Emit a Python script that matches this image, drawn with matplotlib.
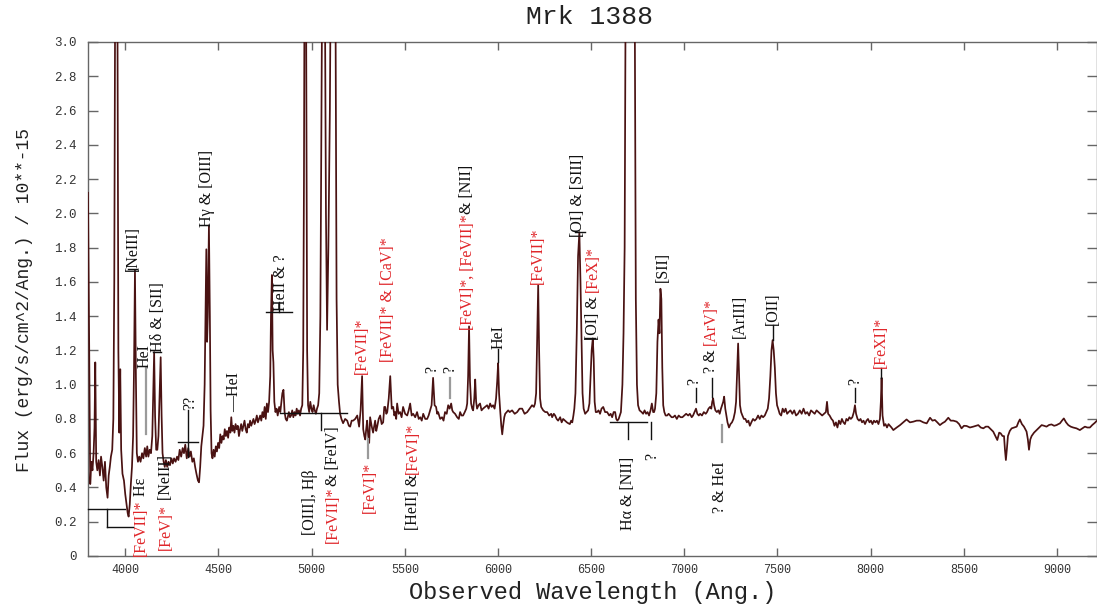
import matplotlib
matplotlib.use("Agg")
import matplotlib.pyplot as plt

# ---------------- data (wavelength in Angstrom, flux in 1e-15 erg/s/cm^2/A) ----------------
seg_blue = [(3800, 2.12), (3806, 1.30), (3812, 0.42), (3818, 0.55), (3824, 0.50), (3830, 0.60),
            (3835, 0.75), (3839, 1.13), (3844, 0.55), (3850, 0.50), (3857, 0.56), (3864, 0.47),
            (3870, 0.58), (3877, 0.52), (3884, 0.44), (3891, 0.55), (3898, 0.40), (3905, 0.34),
            (3911, 0.47), (3917, 0.52), (3923, 0.58), (3930, 0.62), (3936, 0.80), (3941, 1.60),
            (3946, 3.40), (3952, 4.50), (3958, 3.20), (3963, 1.20), (3968, 0.72), (3973, 1.09),
            (3978, 0.62), (3985, 0.48), (3993, 0.44), (4000, 0.36), (4007, 0.30), (4013, 0.25),
            (4018, 0.23), (4024, 0.30), (4030, 0.42), (4036, 0.52), (4042, 0.70), (4047, 1.10),
            (4052, 1.67), (4057, 1.05), (4062, 0.60), (4068, 0.55), (4075, 0.58), (4082, 0.55),
            (4090, 0.60), (4097, 0.57), (4105, 0.63), (4112, 0.58), (4118, 0.64), (4124, 0.58),
            (4131, 0.62), (4138, 0.60), (4145, 0.70), (4150, 0.95), (4155, 1.19), (4160, 0.82),
            (4166, 0.62), (4172, 0.62), (4178, 0.70), (4184, 0.92), (4190, 1.16), (4195, 0.82),
            (4200, 0.60)]

seg_hgamma = [(4206, 0.55), (4212, 0.52), (4218, 0.56), (4225, 0.52), (4232, 0.55), (4240, 0.53),
              (4248, 0.57), (4255, 0.54), (4262, 0.57), (4270, 0.55), (4278, 0.58), (4285, 0.56),
              (4292, 0.62), (4300, 0.58), (4308, 0.63), (4315, 0.60), (4322, 0.65), (4330, 0.57),
              (4338, 0.63), (4345, 0.58), (4352, 0.61), (4360, 0.55), (4368, 0.57), (4375, 0.52),
              (4382, 0.48), (4390, 0.44), (4396, 0.43), (4402, 0.52), (4408, 0.64), (4414, 0.70),
              (4420, 0.76), (4426, 1.00), (4431, 1.45), (4435, 1.79), (4439, 1.25), (4443, 1.40),
              (4449, 1.93), (4454, 1.40), (4458, 0.85), (4463, 0.60), (4468, 0.57), (4474, 0.62),
              (4480, 0.58), (4486, 0.64), (4492, 0.61), (4498, 0.66), (4504, 0.63), (4510, 0.71),
              (4516, 0.66), (4522, 0.70), (4528, 0.68), (4534, 0.74), (4540, 0.70), (4546, 0.73),
              (4552, 0.69), (4558, 0.75), (4564, 0.72), (4569, 0.81), (4574, 0.73), (4580, 0.76),
              (4586, 0.72), (4592, 0.77), (4598, 0.74), (4604, 0.76), (4610, 0.70), (4616, 0.74),
              (4622, 0.77), (4628, 0.73), (4634, 0.76), (4640, 0.79), (4646, 0.74), (4652, 0.72),
              (4658, 0.77), (4664, 0.75), (4670, 0.79), (4676, 0.76), (4682, 0.78), (4688, 0.80),
              (4694, 0.77), (4700, 0.79), (4706, 0.82), (4712, 0.78), (4718, 0.80), (4724, 0.82),
              (4730, 0.79), (4736, 0.84), (4742, 0.81), (4748, 0.87), (4754, 0.80), (4760, 0.89),
              (4766, 0.84), (4772, 0.90), (4778, 1.05), (4782, 1.40), (4787, 1.64), (4791, 1.20),
              (4795, 1.13), (4800, 0.90), (4806, 0.84), (4812, 0.86), (4818, 0.82), (4826, 0.87),
              (4832, 0.84), (4838, 0.90), (4843, 0.95), (4849, 0.97), (4855, 0.84), (4861, 0.80),
              (4867, 0.79), (4872, 0.81), (4878, 0.84), (4884, 0.81), (4890, 0.82), (4896, 0.85),
              (4902, 0.81), (4908, 0.84), (4914, 0.82), (4920, 0.86), (4926, 0.83), (4932, 0.85),
              (4938, 0.82), (4944, 0.86)]

seg_oiii = [(4950, 0.88), (4955, 1.20), (4959, 2.20), (4963, 3.80), (4968, 4.20), (4972, 2.60),
            (4976, 1.20), (4981, 0.88), (4987, 0.84), (4993, 0.90), (4999, 0.86), (5005, 0.84),
            (5011, 0.88), (5017, 0.85), (5023, 0.83), (5029, 0.86), (5035, 0.88), (5041, 0.95),
            (5047, 1.40), (5052, 2.40), (5057, 3.40), (5064, 5.50), (5071, 3.40), (5077, 2.00),
            (5083, 1.32), (5090, 1.80), (5098, 2.60), (5104, 3.60), (5112, 14.0), (5120, 12.0),
            (5128, 3.30), (5134, 1.50), (5140, 1.00), (5147, 0.90), (5153, 0.83)]

seg_feline = [(5160, 0.80), (5169, 0.775), (5180, 0.80), (5191, 0.79), (5200, 0.76), (5207, 0.755),
              (5215, 0.79), (5223, 0.79), (5234, 0.80), (5245, 0.82), (5255, 0.755), (5263, 0.85),
              (5271, 1.05), (5277, 0.74), (5283, 0.70), (5288, 0.68), (5293, 0.74), (5298, 0.79),
              (5304, 0.70), (5309, 0.66), (5314, 0.81), (5322, 0.76), (5330, 0.72), (5336, 0.76),
              (5341, 0.79), (5347, 0.73), (5352, 0.755), (5360, 0.80), (5368, 0.82), (5376, 0.77),
              (5384, 0.78), (5390, 0.87), (5395, 0.87), (5401, 0.83), (5406, 0.84), (5414, 0.92),
              (5422, 1.05), (5430, 0.86), (5438, 0.87), (5444, 0.82), (5449, 0.84), (5454, 0.80),
              (5459, 0.89), (5467, 0.83), (5475, 0.84), (5483, 0.81), (5491, 0.87), (5502, 0.83),
              (5513, 0.82), (5521, 0.85), (5529, 0.89), (5537, 0.82), (5545, 0.83), (5556, 0.81),
              (5566, 0.84), (5575, 0.80), (5583, 0.81), (5591, 0.79), (5599, 0.83), (5610, 0.80),
              (5620, 0.80), (5628, 0.82), (5636, 0.85), (5644, 0.88), (5652, 1.04), (5660, 0.88),
              (5668, 0.87), (5674, 0.83), (5679, 0.84), (5690, 0.80), (5700, 0.81), (5708, 0.79),
              (5716, 0.84), (5725, 0.83), (5733, 0.88), (5741, 0.86), (5749, 0.89), (5755, 0.85),
              (5760, 0.84), (5770, 0.83), (5781, 0.81), (5790, 0.80), (5797, 0.84), (5805, 0.82),
              (5813, 0.82), (5822, 0.84), (5830, 0.86), (5835, 0.89), (5840, 1.05), (5845, 1.34),
              (5850, 1.02), (5856, 0.89), (5862, 0.86), (5867, 0.85), (5873, 0.92), (5878, 1.03),
              (5883, 0.90), (5888, 0.86), (5896, 0.88), (5904, 0.89), (5912, 0.85), (5920, 0.86),
              (5931, 0.87), (5942, 0.88), (5950, 0.86), (5958, 0.89), (5966, 0.87), (5974, 0.88),
              (5982, 0.86), (5990, 0.92), (5996, 1.02), (6001, 1.125), (6006, 0.95), (6012, 0.85),
              (6018, 0.76), (6023, 0.71), (6028, 0.76), (6034, 0.81), (6039, 0.83), (6047, 0.84),
              (6055, 0.85)]

seg_halpha = [(6063, 0.84), (6076, 0.85), (6090, 0.83), (6103, 0.84), (6116, 0.86), (6130, 0.86),
              (6143, 0.83), (6157, 0.84), (6170, 0.86), (6183, 0.88), (6193, 0.87), (6199, 0.89),
              (6205, 0.95), (6211, 1.30), (6216, 1.58), (6221, 1.20), (6226, 0.92), (6232, 0.87),
              (6243, 0.85), (6254, 0.84), (6264, 0.84), (6275, 0.82), (6286, 0.83), (6291, 0.81),
              (6300, 0.83), (6307, 0.82), (6315, 0.80), (6323, 0.79), (6334, 0.81), (6342, 0.78),
              (6350, 0.80), (6360, 0.79), (6370, 0.78), (6377, 0.775), (6386, 0.77), (6393, 0.79),
              (6399, 0.78), (6405, 0.82), (6410, 0.86), (6416, 0.95), (6423, 1.30), (6430, 1.75),
              (6437, 1.89), (6443, 1.60), (6448, 1.30), (6454, 0.95), (6460, 0.86), (6468, 0.83),
              (6476, 0.84), (6484, 0.85), (6491, 0.89), (6497, 1.05), (6503, 1.20), (6509, 1.27),
              (6514, 1.15), (6519, 0.90), (6525, 0.84), (6532, 0.84), (6540, 0.85), (6548, 0.83),
              (6556, 0.86), (6565, 0.87), (6575, 0.84), (6586, 0.84), (6597, 0.82), (6605, 0.83),
              (6613, 0.81), (6621, 0.84), (6629, 0.84), (6635, 0.80), (6641, 0.79), (6648, 0.80),
              (6660, 0.84), (6668, 1.00), (6674, 1.30), (6680, 1.80), (6686, 3.50), (6695, 9.00),
              (6705, 15.0), (6715, 12.0), (6725, 8.00), (6733, 3.60), (6740, 1.50), (6746, 1.00),
              (6752, 0.88), (6760, 0.85), (6771, 0.84), (6779, 0.83), (6787, 0.85), (6795, 0.83),
              (6803, 0.84), (6811, 0.82), (6819, 0.85), (6826, 0.89), (6833, 0.84), (6838, 0.84),
              (6843, 0.86), (6850, 0.95), (6856, 1.25), (6862, 1.38), (6867, 1.30), (6872, 1.56),
              (6877, 1.50), (6882, 1.10), (6887, 0.88), (6893, 0.84)]

seg_red = [(6900, 0.82), (6908, 0.82), (6916, 0.83), (6924, 0.82), (6932, 0.81), (6940, 0.81),
           (6950, 0.82), (6960, 0.80), (6970, 0.82), (6980, 0.81), (6990, 0.81), (7000, 0.82),
           (7010, 0.83), (7021, 0.82), (7030, 0.83), (7040, 0.81), (7047, 0.82), (7055, 0.84),
           (7063, 0.86), (7070, 0.83), (7078, 0.82), (7085, 0.83), (7095, 0.82), (7105, 0.84),
           (7115, 0.83), (7122, 0.84), (7130, 0.86), (7138, 0.87), (7145, 0.86), (7150, 0.90),
           (7155, 0.92), (7160, 0.88), (7167, 0.85), (7175, 0.84), (7183, 0.85), (7190, 0.83),
           (7197, 0.86), (7203, 0.88), (7209, 0.90), (7214, 0.93), (7220, 0.86), (7226, 0.82),
           (7232, 0.78), (7240, 0.75), (7248, 0.77), (7256, 0.78), (7264, 0.80), (7272, 0.84),
           (7278, 0.90), (7283, 1.05), (7289, 1.24), (7294, 1.05), (7299, 0.88), (7305, 0.84),
           (7312, 0.82), (7320, 0.80), (7328, 0.80), (7336, 0.78), (7344, 0.79), (7352, 0.76),
           (7360, 0.78), (7369, 0.80), (7378, 0.79), (7387, 0.80), (7396, 0.82), (7405, 0.80),
           (7414, 0.82), (7423, 0.81), (7432, 0.82), (7440, 0.84), (7448, 0.86), (7455, 0.92),
           (7462, 1.05), (7468, 1.20), (7474, 1.26), (7480, 1.20), (7486, 1.10), (7492, 0.95),
           (7498, 0.88), (7504, 0.86), (7512, 0.83), (7520, 0.82), (7528, 0.86), (7536, 0.84),
           (7544, 0.86), (7552, 0.83), (7560, 0.84), (7570, 0.85), (7580, 0.83), (7590, 0.85),
           (7600, 0.82), (7610, 0.83), (7620, 0.85), (7630, 0.83), (7640, 0.86), (7650, 0.83),
           (7660, 0.84), (7670, 0.82), (7680, 0.85), (7690, 0.84), (7700, 0.83), (7710, 0.85),
           (7720, 0.84), (7730, 0.83), (7740, 0.82), (7750, 0.83), (7760, 0.84), (7766, 0.90),
           (7772, 0.83), (7780, 0.82), (7790, 0.80), (7798, 0.79), (7806, 0.76), (7814, 0.78),
           (7822, 0.75), (7830, 0.79), (7838, 0.77), (7846, 0.80), (7854, 0.78), (7862, 0.77),
           (7870, 0.80), (7878, 0.79), (7886, 0.81), (7894, 0.80), (7902, 0.81), (7910, 0.84),
           (7916, 0.88), (7922, 0.83), (7930, 0.80), (7938, 0.79), (7946, 0.80), (7954, 0.78),
           (7962, 0.79), (7970, 0.77), (7978, 0.79), (7986, 0.80), (7994, 0.78), (8002, 0.79),
           (8010, 0.77), (8018, 0.79), (8026, 0.78), (8034, 0.79), (8042, 0.77), (8050, 0.80),
           (8055, 0.90), (8059, 1.04), (8064, 0.82), (8072, 0.76), (8080, 0.77), (8088, 0.75),
           (8096, 0.77), (8104, 0.76), (8112, 0.75), (8122, 0.735), (8140, 0.75), (8158, 0.764)]

seg_ir = [(8175, 0.78), (8193, 0.797), (8211, 0.78), (8229, 0.784), (8247, 0.79), (8265, 0.79),
          (8283, 0.78), (8301, 0.774), (8319, 0.807), (8332, 0.79), (8345, 0.794), (8358, 0.78),
          (8372, 0.764), (8385, 0.775), (8399, 0.784), (8417, 0.807), (8430, 0.79), (8444, 0.79),
          (8462, 0.784), (8475, 0.77), (8488, 0.745), (8501, 0.76), (8515, 0.759), (8533, 0.75),
          (8551, 0.755), (8565, 0.76), (8578, 0.764), (8591, 0.75), (8605, 0.745), (8618, 0.755),
          (8631, 0.755), (8645, 0.74), (8658, 0.726), (8670, 0.70), (8680, 0.677), (8690, 0.72),
          (8698, 0.716), (8708, 0.70), (8716, 0.70), (8721, 0.62), (8726, 0.56), (8731, 0.62),
          (8737, 0.70), (8747, 0.73), (8757, 0.745), (8770, 0.75), (8784, 0.755), (8793, 0.78),
          (8801, 0.797), (8812, 0.77), (8823, 0.755), (8830, 0.74), (8837, 0.726), (8844, 0.68),
          (8850, 0.62), (8857, 0.68), (8864, 0.70), (8877, 0.72), (8891, 0.735), (8905, 0.75),
          (8918, 0.764), (8931, 0.76), (8944, 0.755), (8958, 0.765), (8971, 0.768), (8985, 0.76),
          (8998, 0.764), (9008, 0.77), (9016, 0.774), (9027, 0.79), (9037, 0.803), (9049, 0.78),
          (9061, 0.764), (9074, 0.755), (9087, 0.75), (9105, 0.745), (9123, 0.735), (9137, 0.745),
          (9150, 0.755), (9163, 0.75), (9177, 0.75), (9190, 0.765), (9203, 0.777), (9215, 0.79)]

x_ticks = [4000, 4500, 5000, 5500, 6000, 6500, 7000, 7500, 8000, 8500, 9000]
x_tick_labels = ["4000", "4500", "5000", "5500", "6000", "6500", "7000", "7500", "8000", "8500", "9000"]
y_ticks = [0, 0.2, 0.4, 0.6, 0.8, 1.0, 1.2, 1.4, 1.6, 1.8, 2.0, 2.2, 2.4, 2.6, 2.8, 3.0]
y_tick_labels = ["0", "0.2", "0.4", "0.6", "0.8", "1.0", "1.2", "1.4", "1.6", "1.8",
                 "2.0", "2.2", "2.4", "2.6", "2.8", "3.0"]

title_text = "Mrk 1388"
x_label = "Observed Wavelength (Ang.)"
y_label = "Flux (erg/s/cm^2/Ang.) / 10**-15"

RED = "#e0262a"
BLK = "#111111"

# line identifications: (wavelength, flux of text bottom, [(text, colour), ...])
line_ids = [
    (4043, 1.665, [("[NeIII]", BLK)]),
    (4103, 1.10, [("HeI", BLK)]),
    (4177, 1.19, [("H\u03b4 & [SII]", BLK)]),
    (4350, 0.85, [("??", BLK)]),
    (4440, 1.92, [("H\u03b3 & [OIII]", BLK)]),
    (4585, 0.84, [("\u2014HeI", BLK)]),
    (4835, 1.43, [("HeII & ?", BLK)]),
    (5271, 1.06, [("[FeVII]*", RED)]),
    (5411, 1.13, [("[FeVII]* & [CaV]*", RED)]),
    (5647, 1.07, [("?", BLK)]),
    (5744, 1.07, [("?", BLK)]),
    (5835, 1.32, [("[FeVI]*, [FeVII]*", RED), ("& [NII]", BLK)]),
    (6006, 1.21, [("HeI", BLK)]),
    (6216, 1.59, [("[FeVII]*", RED)]),
    (6430, 1.86, [("[OI] & [SIII]", BLK)]),
    (6511, 1.26, [("[OI] & ", BLK), ("[FeX]*", RED)]),
    (6886, 1.60, [("[SII]", BLK)]),
    (7053, 1.00, [("?", BLK)]),
    (7144, 1.07, [("? & ", BLK), ("[ArV]*", RED)]),
    (7300, 1.27, [("[ArIII]", BLK)]),
    (7477, 1.35, [("[OII]", BLK)]),
    (7917, 1.00, [("?", BLK)]),
    (8056, 1.10, [("[FeXI]*", RED)]),
    (4086, 0.00, [("[FeVII]*", RED), (" H\u03b5", BLK)]),
    (4220, 0.035, [("[FeV]*", RED), (" [NeIII]", BLK)]),
    (4993, 0.12, [("[OIII], H\u03b2", BLK)]),
    (5116, 0.076, [("[FeVII]*", RED), ("& [FeIV]", BLK)]),
    (5314, 0.25, [("[FeVI]*", RED)]),
    (5545, 0.15, [("[HeII] &", BLK), ("[FeVI]*", RED)]),
    (6698, 0.15, [("H\u03b1 & [NII]", BLK)]),
    (6827, 0.56, [("?", BLK)]),
    (7192, 0.25, [("? & HeI", BLK)]),
]

# marker strokes: ((x0, y0), (x1, y1), colour)
GREY = "#9a9a9a"
marker_strokes = [
    ((4016, 1.675), (4064, 1.675), BLK),
    ((4113, 1.10), (4113, 0.71), GREY),
    ((4150, 1.19), (4192, 1.19), BLK),
    ((4338, 0.85), (4338, 0.58), BLK),
    ((4284, 0.665), (4392, 0.665), BLK),
    ((4756, 1.424), (4896, 1.424), BLK),
    ((4826, 1.424), (4826, 1.48), BLK),
    ((5744, 1.04), (5744, 0.92), GREY),
    ((6001, 1.21), (6001, 1.13), BLK),
    ((6412, 1.89), (6466, 1.89), BLK),
    ((6468, 1.27), (6521, 1.27), BLK),
    ((7063, 0.98), (7063, 0.90), BLK),
    ((7149, 1.04), (7149, 0.93), BLK),
    ((7477, 1.35), (7477, 1.26), BLK),
    ((7917, 0.98), (7917, 0.90), BLK),
    ((8058, 1.10), (8058, 1.04), BLK),
    ((3800, 0.274), (4000, 0.274), BLK),
    ((3903, 0.274), (3903, 0.17), BLK),
    ((3903, 0.17), (4043, 0.17), BLK),
    ((4832, 0.835), (5191, 0.835), BLK),
    ((5051, 0.835), (5051, 0.735), BLK),
    ((5304, 0.68), (5304, 0.57), GREY),
    ((6602, 0.78), (6800, 0.78), BLK),
    ((6698, 0.78), (6698, 0.68), BLK),
    ((6822, 0.78), (6822, 0.68), BLK),
    ((7203, 0.765), (7203, 0.665), GREY),
]

# ---------------- figure ----------------
wavelength = []
flux = []
for seg in (seg_blue, seg_hgamma, seg_oiii, seg_feline, seg_halpha, seg_red, seg_ir):
    for w, f in seg:
        wavelength.append(w)
        flux.append(f)

W, H = 1097, 610
fig = plt.figure(figsize=(W / 100, H / 100), dpi=100)
fig.patch.set_facecolor("white")
ax = fig.add_axes([88 / W, (H - 556) / H, (W - 88) / W, 514 / H])

ax.plot(wavelength, flux, color="#4a1212", lw=1.25, zorder=3)
ax.set_xlim(3800, 9215)
ax.set_ylim(0, 3.0)

mono = "Liberation Mono"
serif = ["Liberation Serif", "DejaVu Serif"]

ax.set_xticks(x_ticks)
ax.set_xticklabels(x_tick_labels, fontfamily=mono, fontsize=8.5, color="#333333")
ax.set_yticks(y_ticks)
ax.set_yticklabels(y_tick_labels, fontfamily=mono, fontsize=9, color="#333333")
ax.tick_params(axis="x", direction="in", length=6, width=1, color="#666666",
               top=True, pad=6)
ax.tick_params(axis="y", direction="in", length=7.5, width=1, color="#666666",
               right=True, pad=8)
for sp in ax.spines.values():
    sp.set_color("#666666")
    sp.set_linewidth(1.0)

fig.text(590 / W, 1 - 17 / H, title_text, ha="center", va="center",
         fontfamily=mono, fontsize=19, color="#222222")
fig.text(593 / W, 1 - 593 / H, x_label, ha="center", va="center",
         fontfamily=mono, fontsize=17, color="#222222")
fig.text(25 / W, 1 - 300 / H, y_label, ha="center", va="center", rotation=90,
         fontfamily=mono, fontsize=13, color="#222222")

for (x0, y0), (x1, y1), col in marker_strokes:
    ax.plot([x0, x1], [y0, y1], color=col, lw=1.0 if col != GREY else 1.6,
            zorder=4, clip_on=False)

fig.canvas.draw()
renderer = fig.canvas.get_renderer()
for wl, yb, pieces in line_ids:
    off = 0.0
    for txt, col in pieces:
        t = ax.annotate(txt, xy=(wl, yb), xytext=(0, off), textcoords="offset pixels",
                        rotation=90, ha="center", va="bottom", color=col,
                        fontfamily=serif, fontsize=11.5, annotation_clip=False, zorder=5)
        bb = t.get_window_extent(renderer)
        off += bb.height

fig.savefig("out.png", dpi=100, facecolor="white")
